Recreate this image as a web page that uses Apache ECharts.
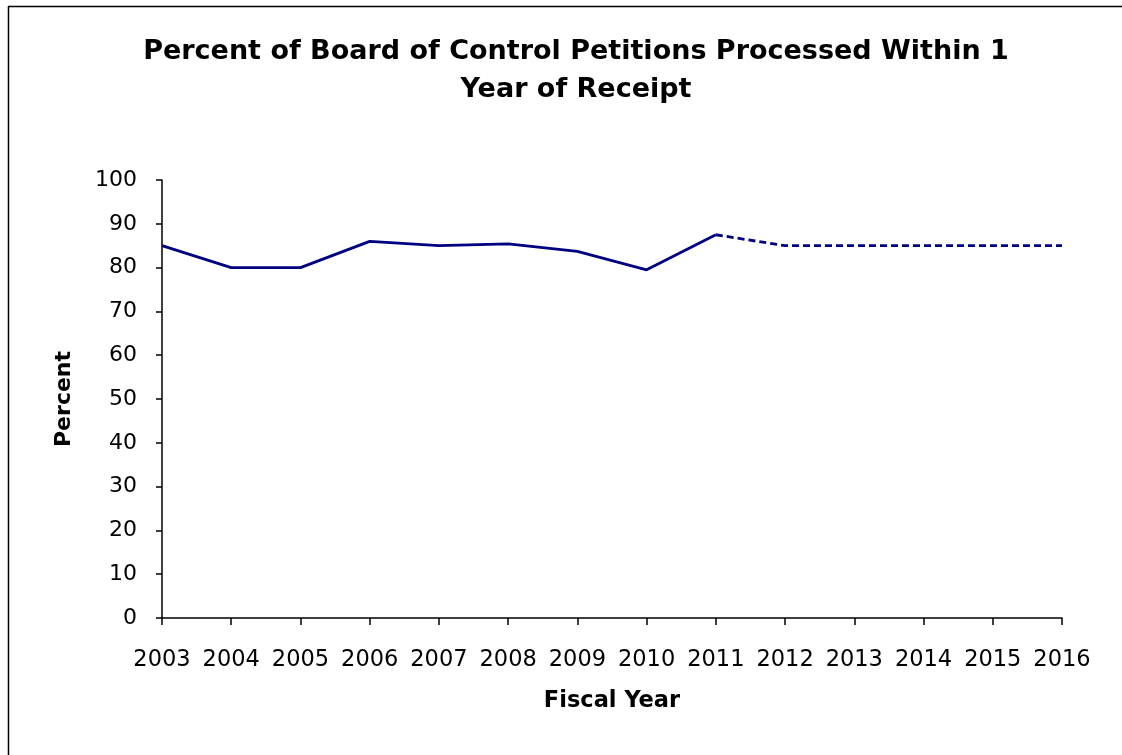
<!DOCTYPE html>
<html>
<head>
<meta charset="utf-8">
<script src="https://cdn.jsdelivr.net/npm/echarts@6/dist/echarts.min.js"></script>
<style>
  html, body { margin: 0; padding: 0; background: #fff; }
  #chart { width: 1122px; height: 755px; }
</style>
</head>
<body>
<div id="chart"></div>
<script>
const years = ['2003','2004','2005','2006','2007','2008','2009','2010','2011','2012','2013','2014','2015','2016'];
const actualYears = ['2003','2004','2005','2006','2007','2008','2009','2010','2011'];
const actualValues = [85, 80, 80, 86, 85, 85.4, 83.7, 79.5, 87.5];
const projectedYears = ['2011','2012','2013','2014','2015','2016'];
const projectedValues = [87.5, 85, 85, 85, 85, 85];
const yTicks = [0, 10, 20, 30, 40, 50, 60, 70, 80, 90, 100];

const actualData = years.map(y => { const i = actualYears.indexOf(y); return i >= 0 ? actualValues[i] : null; });
const projectedData = years.map(y => { const i = projectedYears.indexOf(y); return i >= 0 ? projectedValues[i] : null; });

const chart = echarts.init(document.getElementById('chart'), null, { renderer: 'canvas' });
const font = 'DejaVu Sans';
chart.setOption({
  animation: false,
  backgroundColor: '#ffffff',
  title: {
    text: 'Percent of Board of Control Petitions Processed Within 1\nYear of Receipt',
    left: 576,
    top: 33,
    padding: 0,
    textAlign: 'center',
    textStyle: { fontFamily: font, fontWeight: 'bold', fontSize: 27, color: '#000', lineHeight: 38 }
  },
  graphic: [
    { type: 'line', shape: { x1: 8, y1: 6.5, x2: 1122, y2: 6.5 }, style: { stroke: '#000', lineWidth: 1.5 } },
    { type: 'line', shape: { x1: 8.5, y1: 6, x2: 8.5, y2: 755 }, style: { stroke: '#000', lineWidth: 1.5 } }
  ],
  grid: { left: 162, right: 60, top: 180, bottom: 137, containLabel: false },
  xAxis: {
    type: 'category',
    data: years,
    boundaryGap: false,
    name: 'Fiscal Year',
    nameLocation: 'middle',
    nameGap: 72,
    nameTextStyle: { fontFamily: font, fontWeight: 'bold', fontSize: 22.5, color: '#000' },
    axisLine: { lineStyle: { color: '#000', width: 1.5 } },
    axisTick: { show: true, length: 7, alignWithLabel: true, lineStyle: { color: '#000', width: 1.5 } },
    axisLabel: { fontFamily: font, fontSize: 22.5, color: '#000', margin: 31, interval: 0 },
    splitLine: { show: false }
  },
  yAxis: {
    type: 'value',
    min: yTicks[0],
    max: yTicks[yTicks.length - 1],
    interval: 10,
    name: 'Percent',
    nameLocation: 'middle',
    nameGap: 87,
    nameTextStyle: { fontFamily: font, fontWeight: 'bold', fontSize: 22, color: '#000' },
    axisLine: { show: true, lineStyle: { color: '#000', width: 1.5 } },
    axisTick: { show: true, length: 6, lineStyle: { color: '#000', width: 1.5 } },
    axisLabel: { fontFamily: font, fontSize: 22, color: '#000', margin: 25 },
    splitLine: { show: false }
  },
  series: [
    {
      name: 'Actual',
      type: 'line',
      data: actualData,
      showSymbol: false,
      symbol: 'none',
      lineStyle: { color: '#000080', width: 2.8, type: 'solid' },
      connectNulls: false
    },
    {
      name: 'Projected',
      type: 'line',
      data: projectedData,
      showSymbol: false,
      symbol: 'none',
      lineStyle: { color: '#000080', width: 2.8, type: [7, 4] },
      connectNulls: false
    }
  ]
});
</script>
</body>
</html>
